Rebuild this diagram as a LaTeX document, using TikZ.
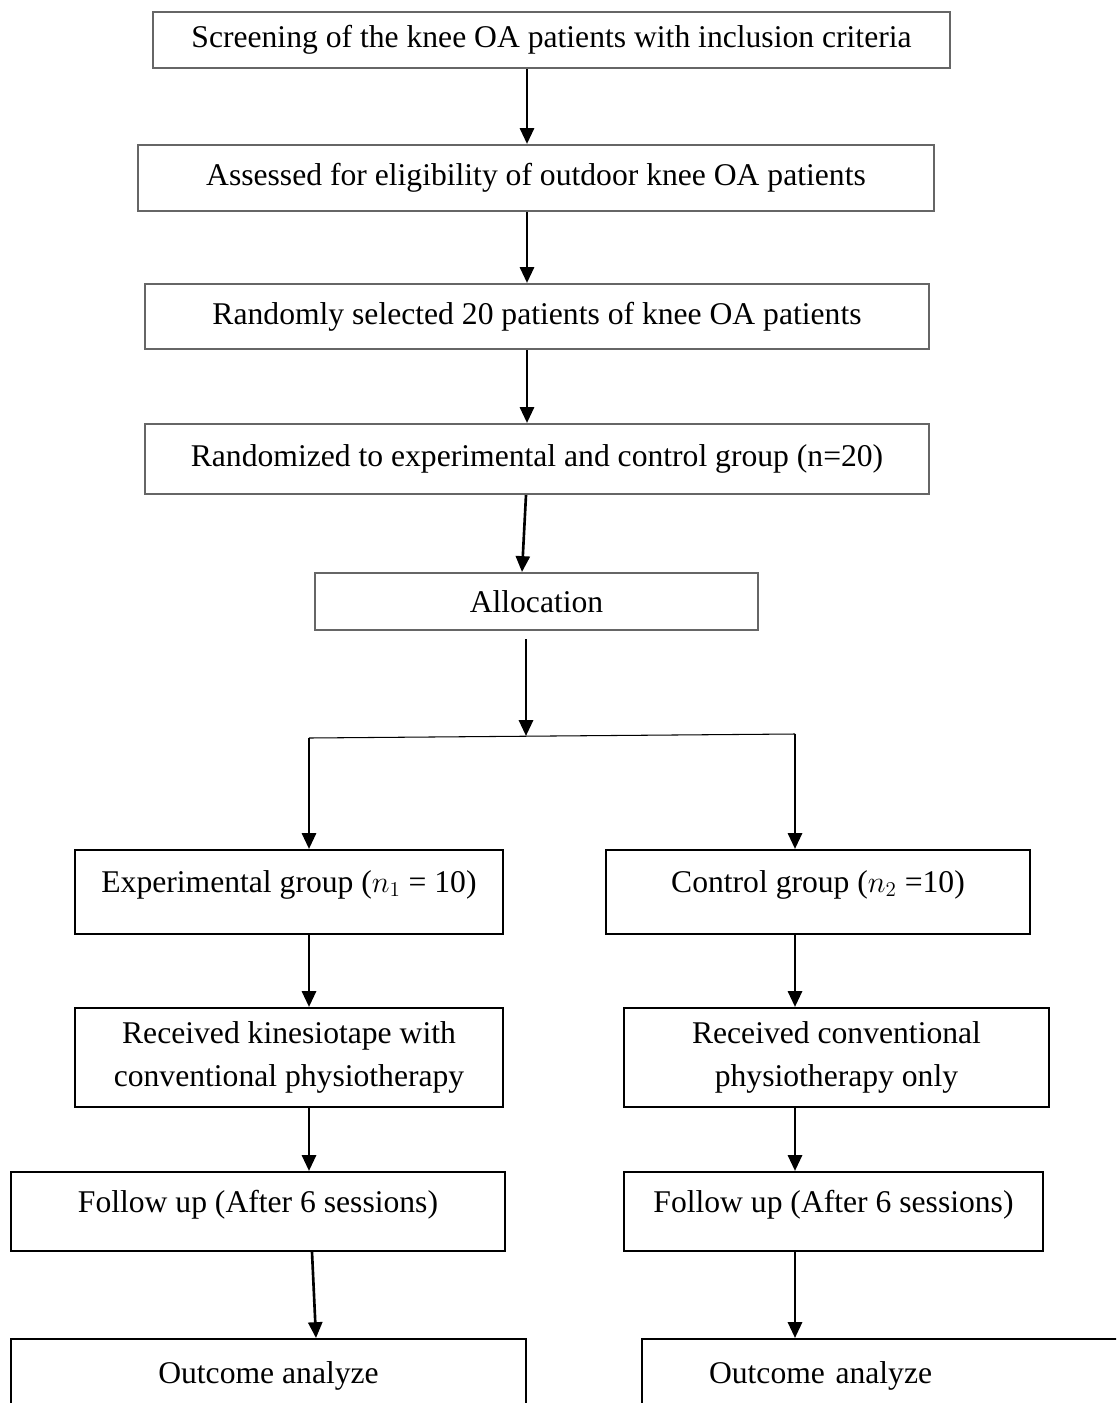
\documentclass[tikz,border=0pt]{standalone}
\usepackage{fontspec}
\setmainfont{Liberation Serif}
\usetikzlibrary{arrows.meta, positioning, calc}

\tikzset{
  topbox/.style={draw=black!60, line width=1.2pt, inner sep=0pt, font=\fontsize{18}{22}\selectfont},
  grpbox/.style={draw=black, line width=1.2pt, inner sep=0pt, align=center, font=\fontsize{18}{24}\selectfont},
  flow/.style={line width=1.5pt, -{Triangle[length=9pt, width=8pt]}}
}

\begin{document}
\begin{tikzpicture}[x=0.02cm, y=-0.02cm]
  \clip (0,0) rectangle (1116,1403);
  \fill[white] (0,0) rectangle (1116,1403);
  % screening column
  \node[topbox, minimum width=15.94cm, minimum height=1.12cm] (screen) at (551.5,40) {Screening of the knee OA patients with inclusion criteria};
  \node[topbox, minimum width=15.92cm, minimum height=1.32cm] (elig) at (536,178) {Assessed for eligibility of outdoor knee OA patients};
  \node[topbox, minimum width=15.68cm, minimum height=1.30cm] (select) at (537,316.5) {Randomly selected 20 patients of knee OA patients};
  \node[topbox, minimum width=15.68cm, minimum height=1.40cm] (rand) at (537,459) {Randomized to experimental and control group (n=20)};
  \node[topbox, minimum width=8.86cm, minimum height=1.14cm] (alloc) at (536.5,601.5) {Allocation};
  \coordinate (axis) at (527,0);
  \draw[flow] (screen.south -| axis) -- (elig.north -| axis);
  \draw[flow] (elig.south -| axis) -- (select.north -| axis);
  \draw[flow] (select.south -| axis) -- (rand.north -| axis);
  \draw[flow] ($(rand.south -| axis)+(-1,0)$) -- ($(alloc.north -| axis)+(-5,0)$);
  % split into the two groups
  \coordinate (split) at (526,736);
  \coordinate (lbr) at (309,738); \coordinate (rbr) at (795,734);
  \draw[flow] ($(alloc.south -| split)+(0,8)$) -- (split);
  \draw[line width=0.6pt] (lbr) -- (rbr);
  % experimental group
  \node[grpbox, minimum width=8.56cm, text height=0.84cm, text depth=0.84cm] (expg) at (289,892) {Experimental group ($n_1$ = 10)};
  \node[grpbox, minimum width=8.56cm, minimum height=1.98cm] (kine) at (289,1057.5) {Received kinesiotape with\\conventional physiotherapy};
  \node[grpbox, minimum width=9.88cm, text height=0.80cm, text depth=0.78cm] (fupl) at (258,1211.5) {Follow up (After 6 sessions)};
  \node[grpbox, anchor=north, minimum width=10.30cm, text height=0.88cm, text depth=0.80cm] (outl) at (268.5,1338) {Outcome analyze};
  % control group
  \node[grpbox, minimum width=8.48cm, text height=0.84cm, text depth=0.84cm] (ctrg) at (818,892) {Control group ($n_2$ =10)};
  \node[grpbox, minimum width=8.50cm, minimum height=1.98cm] (conv) at (836.5,1057.5) {Received conventional\\physiotherapy only};
  \node[grpbox, minimum width=8.38cm, text height=0.80cm, text depth=0.78cm] (fupr) at (833.5,1211.5) {Follow up (After 6 sessions)};
  \node[grpbox, anchor=north west, align=left, inner xsep=1.34cm, text width=7.10cm, text height=0.88cm, text depth=0.80cm] (outr) at (641,1338) {Outcome analyze};
  \coordinate (lax) at (309,0); \coordinate (rax) at (795,0);
  \draw[flow] (lbr) -- (lbr |- expg.north);
  \draw[flow] (rbr) -- (rbr |- ctrg.north);
  \draw[flow] (expg.south -| lax) -- (kine.north -| lax);
  \draw[flow] (ctrg.south -| rax) -- (conv.north -| rax);
  \draw[flow] (kine.south -| lax) -- (fupl.north -| lax);
  \draw[flow] (conv.south -| rax) -- (fupr.north -| rax);
  \draw[flow] ($(fupl.south -| lax)+(3,0)$) -- ($(outl.north -| lax)+(7,0)$);
  \draw[flow] (fupr.south -| rax) -- (outr.north -| rax);
\end{tikzpicture}
\end{document}
